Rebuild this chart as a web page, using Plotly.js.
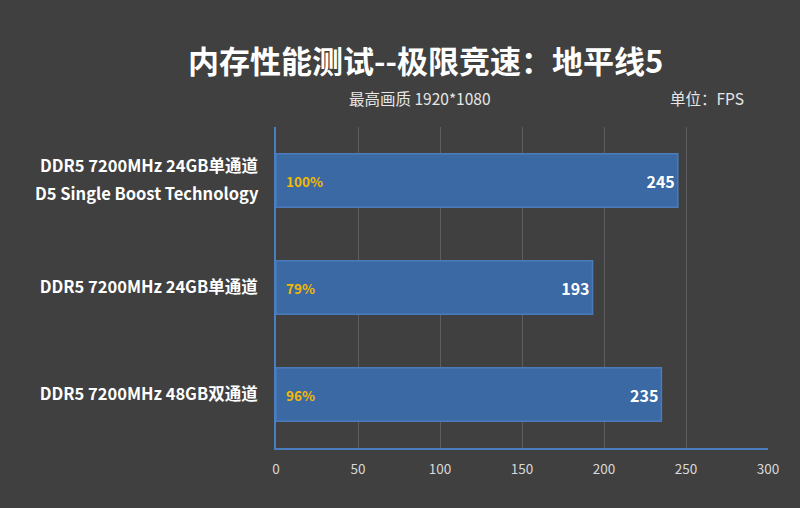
<!DOCTYPE html>
<html>
<head>
<meta charset="utf-8">
<script src="https://cdn.plot.ly/plotly-3.0.1.min.js"></script>
<style>
  html, body { margin: 0; padding: 0; background: #404040; }
  #chart { width: 800px; height: 508px; }
</style>
</head>
<body>
<div id="chart"></div>
<script>
const categories = [
  "DDR5 7200MHz 24GB单通道<br>D5 Single Boost Technology",
  "DDR5 7200MHz 24GB单通道",
  "DDR5 7200MHz 48GB双通道"
];
const fps = [245, 193, 235];
const percents = ["100%", "79%", "96%"];
const xTicks = [0, 50, 100, 150, 200, 250, 300];

const FONT = "'Noto Sans CJK SC', 'Noto Sans', sans-serif";
const LABEL_SIZE = 16.5;

const trace = {
  type: 'bar',
  orientation: 'h',
  y: categories,
  x: fps,
  width: 0.5,
  marker: { color: '#3a69a4', line: { color: '#4b7bbb', width: 1.5 } },
  text: fps.map(v => '<b>' + v + '</b>'),
  textposition: 'inside',
  insidetextanchor: 'end',
  textfont: { color: '#ffffff', size: 16, family: FONT },
  hoverinfo: 'none'
};

// percentage labels at the start of each bar
const pctNotes = categories.map((c, i) => ({
  x: 0, y: c, xref: 'x', yref: 'y',
  text: '<b>' + percents[i] + '</b>',
  showarrow: false, xanchor: 'left', xshift: 8,
  font: { color: '#f5b800', size: 13.5, family: FONT }
}));

// category labels with multiple lines get wider spacing, drawn as notes
const labelNotes = [];
const tickText = categories.map(c => {
  const lines = c.split('<br>');
  if (lines.length === 1) return '<b>' + c + '</b>';
  lines.forEach((ln, j) => {
    labelNotes.push({
      xref: 'paper', x: 0, yref: 'y', y: c,
      xanchor: 'right', yanchor: 'middle', xshift: -15,
      yshift: (lines.length - 1) * 14 + 2 - j * 28,
      showarrow: false, text: '<b>' + ln + '</b>',
      font: { family: FONT, size: LABEL_SIZE, color: '#ffffff' }
    });
  });
  return '';
});

const layout = {
  width: 800, height: 508,
  paper_bgcolor: '#404040',
  plot_bgcolor: '#404040',
  margin: { l: 276, r: 32, t: 127, b: 60 },
  showlegend: false,
  title: {
    text: '<b>内存性能测试--极限竞速：地平线5</b>',
    x: 0.532, xanchor: 'center', y: 0.878, yanchor: 'middle',
    font: { family: FONT, size: 31, color: '#ffffff' }
  },
  xaxis: {
    range: [0, 300],
    tickvals: xTicks,
    ticktext: xTicks.map(String),
    showgrid: true,
    gridcolor: '#5e5e5e',
    gridwidth: 1,
    zeroline: false,
    showline: true,
    linecolor: '#4a7ec0',
    linewidth: 2,
    ticks: '',
    tickfont: { family: FONT, size: 13.5, color: '#d9d9d9' },
    ticklabelstandoff: 8,
    fixedrange: true
  },
  yaxis: {
    autorange: 'reversed',
    showline: true,
    linecolor: '#4a7ec0',
    linewidth: 2,
    showgrid: false,
    ticks: '',
    ticklabelstandoff: 13,
    tickfont: { family: FONT, size: LABEL_SIZE, color: '#ffffff' },
    tickvals: categories,
    ticktext: tickText,
    fixedrange: true
  },
  annotations: pctNotes.concat(labelNotes, [
    {
      xref: 'paper', yref: 'paper', x: 0.144, y: 1.09,
      xanchor: 'left', yanchor: 'middle', showarrow: false,
      text: '最高画质 1920*1080',
      font: { family: FONT, size: 15.5, color: '#e6e6e6' }
    },
    {
      xref: 'paper', yref: 'paper', x: 0.956, y: 1.09,
      xanchor: 'right', yanchor: 'middle', showarrow: false,
      text: '单位：FPS',
      font: { family: FONT, size: 15.5, color: '#e6e6e6' }
    }
  ])
};

Plotly.newPlot('chart', [trace], layout, { displayModeBar: false, staticPlot: true });
</script>
</body>
</html>
